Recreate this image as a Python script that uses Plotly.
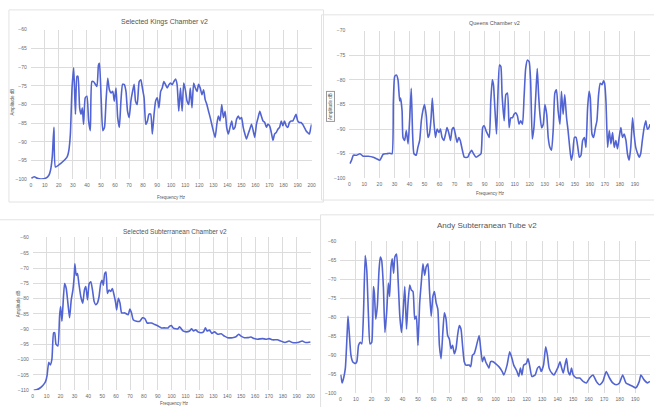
import plotly.graph_objects as go

# ---------------- data ----------------
kings_title = "Selected Kings Chamber v2"
kings_f = [0.5, 2.4, 4.7, 7.1, 10.6, 12.9, 14.1, 15.3, 16.5, 17.6, 21.2, 25.9, 27.1, 28.2, 29.4, 30.6, 31.8, 32.9, 33.6, 34.8,
           35.8, 36.7, 37.6, 38.8, 40.0, 41.2, 42.4, 43.5, 44.7, 47.1, 48.2, 48.9, 50.1, 51.3, 52.5, 53.6, 54.8, 56.0, 57.2, 58.4,
           59.5, 60.7, 61.9, 63.1, 64.2, 65.4, 66.6, 67.8, 68.9, 70.1, 71.3, 72.5, 73.6, 74.6, 75.8, 77.2, 78.4, 79.5, 80.7, 81.9,
           83.1, 84.2, 85.4, 86.6, 87.8, 88.9, 90.1, 91.3, 92.5, 93.6, 94.8, 96.0, 97.2, 98.4, 99.5, 100.7, 101.9, 103.1, 104.2, 105.4,
           106.6, 107.8, 108.9, 110.1, 111.3, 112.5, 113.6, 114.8, 116.0, 117.2, 118.4, 119.5, 120.7, 121.9, 123.1, 124.2, 125.4, 126.6, 127.8, 129.4,
           131.3, 132.5, 133.6, 134.8, 136.0, 137.2, 138.4, 139.5, 140.7, 141.9, 143.1, 144.2, 145.4, 146.6, 147.8, 148.9, 150.1, 151.3, 152.5, 153.6,
           154.8, 156.0, 157.2, 158.4, 159.5, 160.7, 161.9, 163.1, 164.2, 165.4, 166.6, 167.8, 168.9, 170.1, 171.3, 172.5, 173.6, 174.8, 176.0, 177.2,
           178.4, 179.5, 180.7, 181.9, 183.1, 184.2, 185.4, 186.6, 187.8, 188.9, 190.1, 191.3, 192.5, 193.6, 194.8, 196.0, 197.2, 198.4, 199.5, 200.0]
kings_db = [-99.7, -99.3, -99.7, -99.9, -99.7, -98.9, -97.5, -94.0, -86.1, -96.7, -95.8, -94.0, -92.3, -87.9, -75.6, -70.2, -82.6, -72.5, -72.5, -80.9,
            -82.6, -80.9, -85.3, -78.2, -77.8, -84.4, -87.0, -73.9, -73.9, -75.2, -69.5, -69.0, -78.2, -87.0, -86.1, -79.1, -73.0, -76.1, -76.9, -76.5,
            -79.1, -75.6, -83.5, -86.1, -79.1, -74.6, -74.7, -76.5, -81.8, -83.5, -79.1, -76.5, -74.6, -79.1, -80.0, -73.9, -73.4, -75.6, -78.2, -85.3,
            -84.4, -82.6, -82.6, -87.9, -82.6, -79.1, -78.2, -80.9, -76.5, -75.6, -73.9, -74.7, -75.6, -74.7, -74.3, -74.7, -73.9, -73.2, -74.7, -81.8,
            -75.6, -81.8, -74.3, -76.1, -79.1, -80.0, -75.6, -80.9, -74.3, -75.6, -76.5, -74.6, -75.6, -77.4, -76.1, -78.7, -80.0, -81.8, -83.5, -86.1,
            -88.8, -85.3, -83.1, -84.4, -80.0, -83.5, -81.8, -86.1, -87.9, -86.1, -84.4, -86.6, -86.1, -83.9, -83.1, -83.9, -83.5, -86.1, -87.9, -89.2,
            -87.9, -86.6, -85.3, -87.0, -88.8, -85.3, -83.5, -81.8, -83.1, -84.4, -84.8, -86.1, -85.3, -85.7, -87.5, -89.6, -87.9, -87.5, -86.6, -86.1,
            -84.4, -85.7, -84.4, -85.7, -86.1, -84.8, -84.4, -84.4, -83.5, -82.6, -84.4, -84.8, -84.8, -85.3, -86.1, -87.0, -87.5, -87.9, -86.1, -85.3]

queens_title = "Queens Chamber v2"
queens_f = [0.4, 1.5, 2.7, 4.8, 7.1, 9.2, 12.6, 15.9, 18.0, 20.3, 22.5, 24.7, 26.9, 28.4, 29.3, 30.2, 31.3, 32.4, 33.5, 34.1,
            35.1, 35.7, 36.8, 37.9, 39.1, 40.1, 41.2, 42.1, 43.0, 44.5, 45.6, 46.8, 47.9, 48.9, 50.0, 51.2, 52.3, 53.3, 54.4, 55.2,
            56.2, 57.3, 58.4, 59.6, 60.6, 61.7, 62.9, 64.0, 65.0, 66.1, 67.3, 68.4, 69.4, 70.5, 71.7, 72.8, 73.8, 75.0, 76.5, 78.8,
            79.8, 81.4, 82.6, 84.3, 86.4, 87.6, 88.7, 89.7, 90.9, 92.0, 93.1, 94.1, 95.1, 95.9, 96.8, 97.9, 98.7, 99.9, 100.8, 101.6,
            103.0, 104.1, 105.2, 106.3, 107.4, 108.5, 109.6, 110.7, 111.8, 112.9, 114.0, 115.2, 116.2, 117.3, 118.4, 119.6, 120.6, 121.7, 122.8, 124.0,
            125.0, 125.9, 126.8, 127.9, 129.0, 130.1, 131.3, 132.3, 133.4, 134.5, 135.7, 136.7, 137.8, 138.9, 140.1, 141.1, 142.2, 143.3, 144.5, 145.5,
            146.6, 147.6, 148.6, 149.7, 150.8, 152.0, 153.0, 154.1, 155.2, 156.4, 157.4, 158.5, 159.5, 160.3, 161.4, 162.5, 163.7, 164.7, 165.8, 166.9,
            168.1, 169.1, 169.8, 170.7, 171.8, 172.9, 174.0, 175.1, 176.2, 177.3, 178.4, 179.5, 180.6, 181.7, 182.8, 184.0, 185.0, 186.1, 187.2, 188.4,
            189.4, 190.5, 191.8, 192.8, 193.8, 194.9, 196.1, 197.2, 198.2, 199.3, 200.0]
queens_db = [-97.0, -96.3, -95.3, -95.3, -95.0, -95.5, -95.5, -95.7, -96.0, -96.3, -95.1, -95.0, -94.9, -95.0, -84.3, -79.3, -79.0, -80.0, -84.3, -83.7,
             -86.3, -91.7, -92.3, -90.3, -93.0, -88.3, -81.7, -91.0, -95.0, -95.3, -93.7, -92.3, -88.3, -86.3, -85.0, -87.3, -91.7, -91.0, -87.7, -83.7,
             -88.3, -91.7, -90.0, -90.7, -90.0, -91.7, -92.3, -91.0, -89.7, -90.7, -92.3, -90.0, -89.7, -91.0, -92.7, -91.7, -92.3, -94.0, -95.7, -95.7,
             -95.0, -94.3, -95.0, -95.7, -95.3, -95.0, -89.7, -89.3, -90.3, -91.0, -91.7, -84.3, -80.0, -81.0, -85.7, -91.0, -84.3, -77.0, -77.3, -83.0,
             -88.3, -83.0, -82.7, -89.7, -87.7, -87.7, -87.0, -86.7, -87.3, -89.0, -88.3, -89.0, -83.7, -77.7, -76.0, -76.3, -80.3, -92.0, -89.7, -83.3,
             -77.7, -83.0, -87.0, -89.7, -89.0, -85.0, -87.0, -91.7, -93.7, -94.3, -89.7, -82.7, -82.0, -86.3, -89.0, -82.3, -87.0, -83.0, -87.7, -90.3,
             -93.7, -96.3, -95.0, -91.7, -91.7, -93.7, -95.7, -95.3, -92.3, -91.7, -93.7, -85.7, -82.3, -83.7, -91.0, -91.7, -89.7, -88.3, -83.0, -80.7,
             -81.0, -80.2, -80.7, -84.3, -93.7, -90.3, -93.0, -90.7, -93.7, -92.3, -94.0, -91.7, -89.7, -91.7, -91.0, -92.3, -95.0, -96.3, -93.7, -87.7,
             -91.0, -93.7, -95.0, -95.7, -95.0, -92.3, -89.7, -88.3, -90.0, -89.7, -89.0]

sub_title = "Selected Subterranean Chamber v2"
sub_f = [0.7, 3.1, 5.5, 7.4, 9.1, 10.3, 11.5, 12.6, 13.8, 15.0, 15.8, 16.7, 18.1, 19.3, 20.0, 21.0, 21.7, 22.9, 24.1, 25.3,
         26.5, 27.7, 28.9, 29.8, 30.3, 31.3, 32.2, 33.2, 34.6, 36.0, 37.2, 38.2, 39.4, 40.6, 41.8, 43.0, 44.2, 45.3, 46.5, 47.7,
         48.9, 49.9, 50.8, 51.8, 52.7, 53.7, 54.9, 56.1, 57.3, 58.5, 59.7, 60.4, 61.6, 62.8, 64.0, 66.3, 68.7, 69.9, 71.1, 72.3,
         74.7, 77.1, 79.0, 80.9, 82.3, 85.4, 87.8, 90.2, 92.6, 95.0, 97.4, 98.6, 99.8, 101.0, 102.9, 104.5, 105.7, 106.9, 108.1, 110.5,
         112.9, 114.3, 115.8, 117.2, 118.9, 121.2, 122.9, 124.3, 125.5, 127.2, 128.9, 130.8, 133.2, 135.6, 138.0, 140.3, 143.8, 146.3, 148.2, 149.9,
         152.3, 154.7, 157.0, 159.4, 161.8, 165.4, 167.8, 170.2, 172.6, 176.1, 178.5, 181.6, 184.5, 186.9, 190.5, 194.0, 196.4, 200.0]
sub_db = [-110.0, -109.8, -109.2, -108.4, -107.3, -105.2, -100.9, -101.7, -99.8, -91.2, -91.2, -94.9, -95.5, -85.8, -82.6, -87.4, -82.6, -75.1, -76.7, -81.5,
          -86.3, -80.4, -77.2, -72.9, -68.6, -72.4, -71.8, -75.1, -79.4, -81.5, -77.2, -76.1, -80.4, -75.1, -74.5, -77.2, -81.0, -82.0, -81.5, -79.4,
          -75.1, -74.0, -75.6, -71.8, -71.3, -78.3, -77.2, -77.7, -76.7, -78.8, -81.5, -83.7, -79.9, -81.5, -84.7, -84.7, -85.3, -83.4, -84.7, -86.9,
          -87.4, -87.4, -86.3, -86.7, -88.0, -88.0, -88.5, -89.0, -89.6, -89.6, -89.6, -89.0, -88.8, -89.6, -89.9, -89.9, -89.2, -89.9, -90.6, -90.9,
          -90.6, -89.9, -90.6, -90.2, -90.9, -91.2, -90.9, -89.6, -90.6, -90.3, -91.4, -90.9, -91.7, -91.5, -92.3, -92.8, -92.8, -92.5, -91.7, -92.3,
          -92.8, -92.8, -92.6, -93.1, -93.3, -93.1, -93.3, -93.1, -93.5, -93.5, -93.9, -94.4, -93.9, -94.4, -94.4, -93.9, -94.4, -94.2]

andy_title = "Andy Subterranean Tube v2"
andy_f = [0.2, 1.1, 2.1, 3.2, 4.3, 4.9, 5.7, 6.8, 7.9, 9.6, 10.6, 11.7, 12.8, 13.8, 14.9, 16.0, 17.0, 18.1, 19.1, 20.2,
          21.3, 21.9, 22.8, 23.8, 24.9, 25.7, 26.6, 27.7, 28.7, 29.8, 30.9, 31.7, 32.6, 33.4, 34.3, 35.1, 36.2, 37.2, 38.3, 39.4,
          40.4, 41.5, 42.6, 43.6, 44.7, 45.7, 46.8, 47.9, 48.9, 50.0, 51.1, 52.1, 53.2, 54.3, 55.3, 56.4, 57.4, 58.5, 59.6, 60.6,
          61.7, 62.8, 63.8, 64.9, 66.0, 67.0, 68.1, 69.1, 70.2, 71.3, 72.3, 73.4, 74.5, 75.5, 76.6, 77.7, 78.7, 79.8, 80.9, 83.0,
          84.0, 85.1, 86.2, 87.2, 89.4, 90.4, 91.5, 92.6, 93.6, 94.7, 95.7, 96.8, 98.5, 100.0, 102.1, 104.3, 105.3, 107.4, 109.1, 110.6,
          111.7, 113.8, 114.9, 116.0, 117.0, 118.1, 119.8, 120.9, 121.9, 123.4, 125.5, 127.0, 128.3, 129.4, 130.9, 132.3, 133.4, 134.5, 136.2, 137.7,
          138.9, 140.4, 141.5, 142.6, 143.6, 144.7, 145.7, 146.8, 147.9, 148.9, 150.0, 152.1, 154.3, 156.4, 158.5, 160.6, 162.8, 164.9, 167.0, 169.1,
          171.3, 173.4, 175.5, 177.7, 179.8, 181.9, 184.0, 186.2, 188.3, 190.4, 192.6, 193.6, 195.7, 197.9, 199.4]
andy_db = [-95.2, -97.3, -96.0, -93.4, -84.8, -79.7, -84.0, -90.0, -91.7, -92.2, -91.7, -87.4, -86.6, -87.0, -78.8, -63.7, -67.6, -79.7, -87.0, -86.6,
           -71.9, -73.6, -80.5, -77.1, -67.6, -64.1, -65.0, -71.9, -84.0, -78.8, -71.0, -74.5, -66.7, -64.6, -68.4, -64.1, -63.3, -70.2, -79.7, -84.0,
           -78.8, -71.9, -83.1, -76.2, -71.5, -72.8, -73.2, -80.5, -79.7, -87.4, -76.2, -71.0, -65.9, -68.9, -66.7, -65.9, -72.8, -79.7, -74.5, -73.2,
           -76.2, -77.9, -87.4, -90.9, -84.0, -78.8, -80.5, -84.8, -85.7, -88.3, -87.4, -89.6, -88.3, -84.8, -82.2, -83.1, -87.4, -91.7, -92.6, -92.6,
           -93.0, -90.0, -89.6, -88.3, -84.8, -88.3, -91.7, -90.4, -91.7, -92.6, -93.4, -91.7, -91.7, -92.2, -93.0, -94.3, -95.2, -92.6, -89.1, -90.9,
           -92.6, -94.3, -95.6, -93.4, -95.2, -92.6, -92.2, -90.9, -92.6, -95.6, -95.2, -93.4, -93.0, -94.3, -92.6, -87.8, -90.0, -93.4, -94.7, -95.2,
           -94.3, -93.0, -91.7, -93.4, -94.7, -92.6, -90.9, -94.3, -95.2, -93.4, -95.2, -96.0, -96.0, -96.9, -97.3, -96.0, -95.2, -96.9, -97.8, -96.9,
           -94.3, -96.0, -97.3, -97.8, -97.3, -95.2, -97.3, -97.8, -98.2, -98.6, -96.9, -95.2, -96.5, -97.3, -96.9]

y_title = "Amplitude dB"
x_title = "Frequency Hz"

# ---------------- figure ----------------
W, H = 654, 407
LINE = "#5264d2"
GRID = "#dcdcdc"
TXT = "#6a6a6a"
FONT = "Liberation Sans"

def px(x):
    return x / W

def py(y):
    return 1 - y / H

fig = go.Figure()

panels = [
    ("1", kings_f, kings_db, (30, 313), (27, 179), (-100, -60), (0, 200)),
    ("2", queens_f, queens_db, (351, 654), (28, 178), (-100, -70), (0, 200)),
    ("3", sub_f, sub_db, (32, 312), (238, 393), (-110, -60), (0, 200)),
    ("4", andy_f, andy_db, (342, 654), (242, 396), (-100, -60), (0, 199.5)),
]

for n, f, db, xd, yd, yr, xr in panels:
    xa = "x" if n == "1" else "x" + n
    ya = "y" if n == "1" else "y" + n
    fig.add_trace(go.Scatter(x=f, y=db, mode="lines", xaxis=xa, yaxis=ya,
                             line=dict(color=LINE, width=1.6, shape="spline", smoothing=0.5),
                             showlegend=False, hoverinfo="skip"))
    key = "" if n == "1" else n
    fig.layout["xaxis" + key] = dict(domain=[px(xd[0]), px(xd[1])], range=list(xr), anchor=ya,
                                     dtick=10, tick0=0, showgrid=True, gridcolor=GRID, gridwidth=1,
                                     zeroline=False, showline=False, ticks="",
                                     tickfont=dict(size=5, color=TXT, family=FONT), ticklabelstandoff=2)
    fig.layout["yaxis" + key] = dict(domain=[py(yd[1]), py(yd[0])], range=list(yr), anchor=xa,
                                     dtick=5, tick0=0, showgrid=True, gridcolor=GRID, gridwidth=1,
                                     zeroline=False, showline=False, ticks="",
                                     tickfont=dict(size=5, color=TXT, family=FONT), ticklabelstandoff=3)

# panel borders
for (x0, y0, x1, y1) in [(8, 7, 325, 202), (323, 12, 660, 200), (-5, 220, 322, 420), (322, 215, 660, 420)]:
    fig.add_shape(type="rect", xref="paper", yref="paper", x0=px(x0), x1=px(x1), y0=py(y1), y1=py(y0),
                  line=dict(color="#e3e3e3", width=1), fillcolor="rgba(0,0,0,0)", layer="below")

ann = []
def text(s, x, y, size, angle=0, border=None):
    ann.append(dict(text=s, x=px(x), y=py(y), xref="paper", yref="paper", showarrow=False,
                    font=dict(size=size, color="#555555", family=FONT), textangle=angle,
                    xanchor="center", yanchor="middle",
                    bordercolor=border if border else "rgba(0,0,0,0)", borderwidth=1 if border else 0,
                    borderpad=1))

text(kings_title, 165, 19, 7)
text(queens_title, 497, 20, 5.5)
text(sub_title, 175, 232, 6.5)
text(andy_title, 490, 226, 8)
text(y_title, 12, 100, 4.5, angle=-90)
text(y_title, 332, 105, 4.5, angle=-90, border="#9a9a9a")
text(y_title, 18, 305, 4.5, angle=-90)
text(x_title, 172, 197, 4.5)
text(x_title, 493, 193, 4.5)
text(x_title, 175, 406, 4.5)
fig.update_layout(annotations=ann)

fig.update_layout(width=W, height=H, margin=dict(l=0, r=0, t=0, b=0),
                  paper_bgcolor="white", plot_bgcolor="white")

fig.write_html("out.html", config={"displayModeBar": False},
               post_script="document.body.style.margin='0px';document.body.style.overflow='hidden';")
